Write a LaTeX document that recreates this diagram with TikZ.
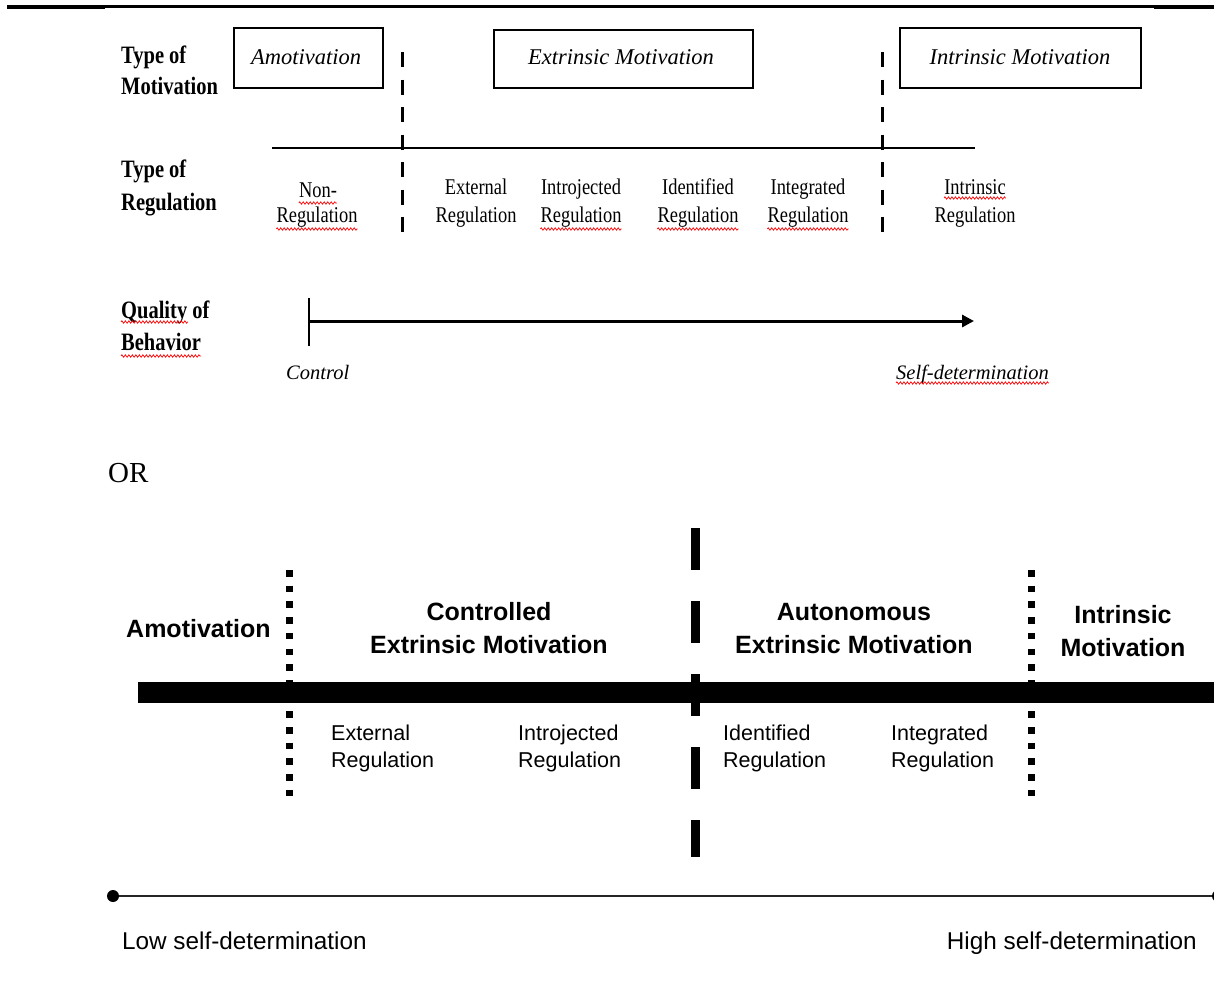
\documentclass[tikz,border=0pt]{standalone}
\usepackage{fontspec}
\setmainfont{Liberation Serif}
\newfontfamily\tnrc[FakeStretch=0.82]{Liberation Serif}
\newfontfamily\arialf{Liberation Sans}
\usetikzlibrary{arrows.meta,decorations.pathmorphing}
\tikzset{
  bl/.style={font=\tnrc\bfseries\fontsize{25}{31}\selectfont, anchor=base west, inner sep=0pt},
  rl/.style={font=\tnrc\fontsize{22.5}{27}\selectfont, anchor=base, inner sep=0pt},
  il/.style={font=\itshape\fontsize{22.5}{27}\selectfont, anchor=base, inner sep=0pt},
  cl/.style={font=\itshape\fontsize{20.5}{25}\selectfont, anchor=base west, inner sep=0pt},
  mbox/.style={draw, line width=1.6pt, inner sep=0pt},
  tdash/.style={line width=3pt, dash pattern=on 15pt off 12.5pt},
  dotline/.style={line width=7pt, dash pattern=on 6.5pt off 9.2pt},
  bigdash/.style={line width=9pt, dash pattern=on 42pt off 31pt},
  ab/.style={font=\arialf\bfseries\fontsize{25}{31}\selectfont, anchor=base, inner sep=0pt},
  ar/.style={font=\arialf\fontsize{21.5}{27}\selectfont, anchor=base west, inner sep=0pt},
  lh/.style={font=\arialf\fontsize{24.3}{29}\selectfont, inner sep=0pt},
  squig/.style={draw=red, line width=0.7pt, decorate, decoration={zigzag, amplitude=1.2pt, segment length=3.5pt}}
}
\begin{document}
\begin{tikzpicture}[x=1pt,y=-1pt]
\useasboundingbox (0,0) rectangle (1214,994);
\clip (0,0) rectangle (1214,994);
\fill[white] (0,0) rectangle (1214,994);
% top rule
\fill (7,4.5) rectangle (1214,7.5);
\fill (7,4.5) rectangle (105,9);
\fill (1154,4.5) rectangle (1214,9);
% row labels
\node[bl] (tm1) at (121,63) {Type of};
\node[bl] (tm2) at (121,94) {Motivation};
\node[bl] (tr1) at (121,177) {Type of};
\node[bl] (tr2) at (121,210) {Regulation};
\node[bl] (qb1) at (121,318) {Quality of};
\node[bl] (qb2) at (121,350) {Behavior};
% boxes
\node[mbox, minimum width=149pt, minimum height=60pt] (amobox) at (308.5,58) {};
\node[mbox, minimum width=259pt, minimum height=58pt] (extbox) at (623.5,59) {};
\node[mbox, minimum width=241pt, minimum height=60pt] (intbox) at (1020.5,58) {};
\node[il] (amotxt) at (306,64) {Amotivation};
\node[il] (exttxt) at (621,64) {Extrinsic Motivation};
\node[il] (inttxt) at (1020,64) {Intrinsic Motivation};
% dashed separators
\coordinate (d1t) at (402,52); \coordinate (d1b) at (402,232);
\coordinate (d2t) at (882,52); \coordinate (d2b) at (882,232);
\draw[tdash] (d1t) -- (d1b);
\draw[tdash] (d2t) -- (d2b);
\coordinate (hl1) at (272,148); \coordinate (hl2) at (975,148);
\draw[line width=1.8pt] (hl1) -- (hl2);
% regulation labels
\node[rl] (rn1) at (318,197) {Non-};
\node[rl] (rn2) at (317,222) {Regulation};
\node[rl] (re1) at (476,194) {External};
\node[rl] (re2) at (476,222) {Regulation};
\node[rl] (ri1) at (581,194) {Introjected};
\node[rl] (ri2) at (581,222) {Regulation};
\node[rl] (rd1) at (698,194) {Identified};
\node[rl] (rd2) at (698,222) {Regulation};
\node[rl] (rg1) at (808,194) {Integrated};
\node[rl] (rg2) at (808,222) {Regulation};
\node[rl] (rq1) at (975,194) {Intrinsic};
\node[rl] (rq2) at (975,222) {Regulation};
% quality arrow
\coordinate (tk1) at (309,298); \coordinate (tk2) at (309,346);
\coordinate (qa) at (309,321); \coordinate (qb) at (974,321);
\draw[line width=1.8pt] (tk1) -- (tk2);
\draw[line width=3pt, -{Triangle[length=12pt,width=12pt]}] (qa) -- (qb);
\node[cl] (ctl) at (286,379) {Control};
\node[cl] (sdt) at (896,379) {Self-determination};
% spell-check squiggles
\draw[squig] ([yshift=-6pt]rn1.base west) -- ([yshift=-6pt]rn1.base east);
\draw[squig] ([yshift=-7pt]rn2.base west) -- ([yshift=-7pt]rn2.base east);
\draw[squig] ([yshift=-7pt]ri2.base west) -- ([yshift=-7pt]ri2.base east);
\draw[squig] ([yshift=-7pt]rd2.base west) -- ([yshift=-7pt]rd2.base east);
\draw[squig] ([yshift=-7pt]rg2.base west) -- ([yshift=-7pt]rg2.base east);
\draw[squig] ([yshift=-4pt]rq1.base west) -- ([yshift=-4pt]rq1.base east);
\draw[squig] ([yshift=-4pt]qb1.base west) -- ([xshift=67pt,yshift=-4pt]qb1.base west);
\draw[squig] ([yshift=-6pt]qb2.base west) -- ([yshift=-6pt]qb2.base east);
\draw[squig] ([yshift=-4pt]sdt.base west) -- ([yshift=-4pt]sdt.base east);
% OR
\node[font=\fontsize{29}{34}\selectfont, anchor=base west, inner sep=0pt] (or) at (108,482) {OR};
% bottom diagram
\fill (137.5,682) rectangle (1214,703);
\coordinate (v1t) at (289,570); \coordinate (v1b) at (289,800);
\coordinate (v2t) at (1031,570); \coordinate (v2b) at (1031,800);
\draw[dotline] (v1t) -- (v1b);
\draw[dotline] (v2t) -- (v2b);
\coordinate (bdt) at (695,528); \coordinate (bdb) at (695,857);
\draw[bigdash] (bdt) -- (bdb);
\node[ab, anchor=base west] (bam) at (126,637) {Amotivation};
\node[ab] (bc1) at (489,620) {Controlled};
\node[ab] (bc2) at (489,653) {Extrinsic Motivation};
\node[ab] (ba1) at (854,620) {Autonomous};
\node[ab] (ba2) at (854,653) {Extrinsic Motivation};
\node[ab] (bi1) at (1123,623) {Intrinsic};
\node[ab] (bi2) at (1123,656) {Motivation};
\node[ar] (be1) at (331,740) {External};
\node[ar] (be2) at (331,767) {Regulation};
\node[ar] (bj1) at (518,740) {Introjected};
\node[ar] (bj2) at (518,767) {Regulation};
\node[ar] (bd1) at (723,740) {Identified};
\node[ar] (bd2) at (723,767) {Regulation};
\node[ar] (bg1) at (891,740) {Integrated};
\node[ar] (bg2) at (891,767) {Regulation};
% self-determination scale
\coordinate (lo) at (113,896); \coordinate (hi) at (1218,896);
\draw[line width=2.4pt, black!85] (lo) -- (hi);
\fill (lo) circle (6pt);
\fill (hi) circle (6pt);
\node[lh, anchor=base west] (low) at (122,949) {Low self-determination};
\node[lh, anchor=base east] (high) at (1197,949) {High self-determination};
\end{tikzpicture}
\end{document}
